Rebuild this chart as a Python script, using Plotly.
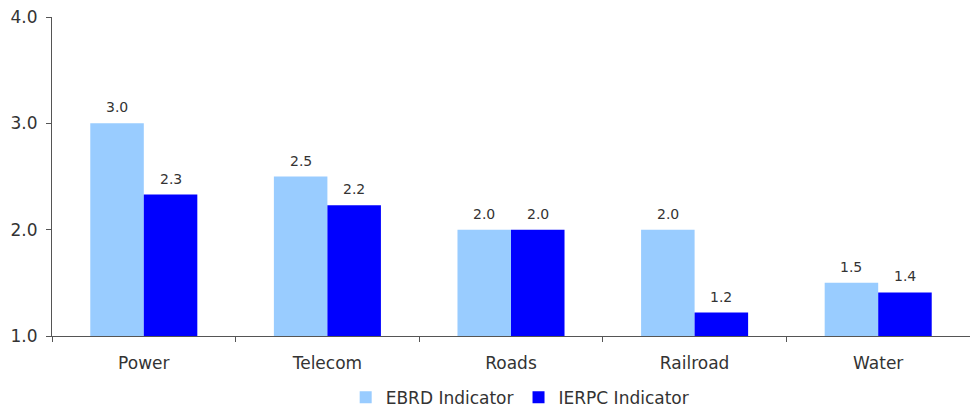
import plotly.graph_objects as go

# Infrastructure indicators by sector
sectors = ["Power", "Telecom", "Roads", "Railroad", "Water"]
ebrd = [3.0, 2.5, 2.0, 2.0, 1.5]
ierpc = [2.33, 2.23, 2.0, 1.22, 1.41]
y_ticks = [1.0, 2.0, 3.0, 4.0]

font_family = "DejaVu Sans, Verdana, sans-serif"
text_color = "#333333"
bargap = 0.417

fig = go.Figure()
fig.add_trace(go.Bar(
    name="EBRD Indicator", x=sectors, y=ebrd,
    marker=dict(color="#99CCFF", line=dict(width=0)),
))
fig.add_trace(go.Bar(
    name="IERPC Indicator", x=sectors, y=ierpc,
    marker=dict(color="#0000FF", line=dict(width=0)),
))

# Value labels above each bar, formatted from the bar values
plot_w = 970 - 52 - 0
half_bar_px = plot_w / len(sectors) * (1 - bargap) / 4
for vals, side in ((ebrd, -1), (ierpc, 1)):
    for s, v in zip(sectors, vals):
        fig.add_annotation(
            x=s, y=v, xref="x", yref="y", text=f"{v:.1f}",
            showarrow=False, xshift=side * half_bar_px, yshift=6,
            yanchor="bottom", xanchor="center",
            font=dict(size=14, color=text_color, family=font_family),
        )

fig.update_layout(
    width=970, height=412,
    margin=dict(l=52, r=0, t=17, b=76),
    paper_bgcolor="white", plot_bgcolor="white",
    barmode="group", bargap=bargap, bargroupgap=0,
    font=dict(family=font_family, size=17, color=text_color),
    showlegend=True,
    legend=dict(
        orientation="h", x=0.51, xanchor="center",
        yref="container", y=0.035, yanchor="middle",
        font=dict(size=17, color=text_color), itemwidth=30,
        traceorder="normal",
    ),
)
fig.update_xaxes(
    showline=True, linecolor="#555555", linewidth=1,
    ticks="outside", ticklen=5, tickcolor="#555555",
    tickson="boundaries", showgrid=False, ticklabelstandoff=12,
    tickfont=dict(size=17, color=text_color),
)
fig.update_yaxes(
    range=[1.0, 4.0], tickvals=y_ticks, tickformat=".1f",
    showline=True, linecolor="#555555", linewidth=1,
    ticks="outside", ticklen=5, tickcolor="#555555",
    showgrid=False, zeroline=False, ticklabelstandoff=5,
    tickfont=dict(size=17, color=text_color),
)

fig.write_html("out.html")
